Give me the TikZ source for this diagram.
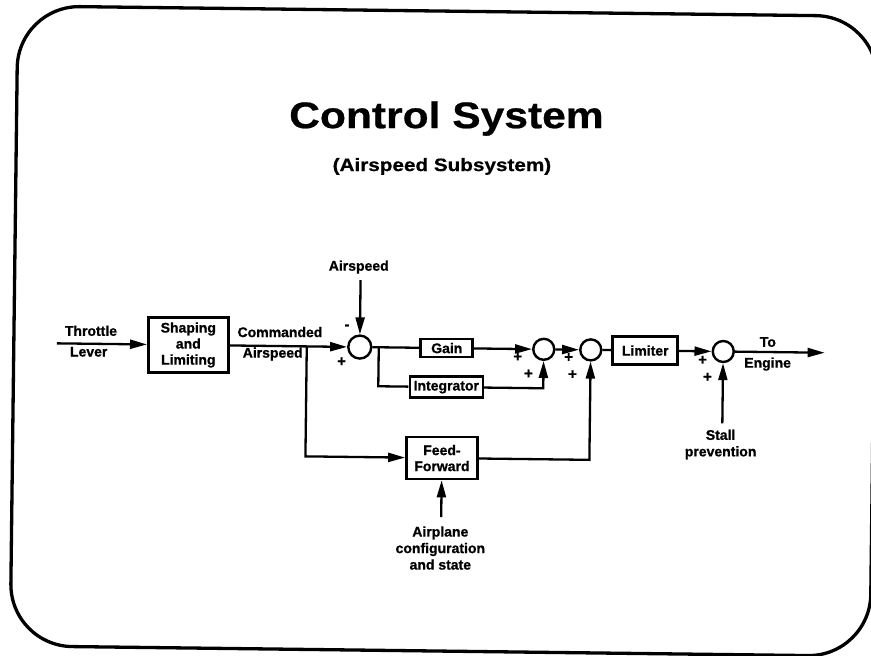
\documentclass[tikz,border=0pt]{standalone}
\usepackage{fontspec}
\setmainfont{Liberation Sans}
\newfontfamily\titlefont{Liberation Sans Bold}[FakeStretch=1.15,FakeBold=0.6]
\newfontfamily\lblfont{Liberation Sans Bold}[FakeBold=0.9]
\usetikzlibrary{arrows.meta}
\begin{document}
\begin{tikzpicture}[x=1pt,y=-1pt,
  lbl/.style={font=\lblfont\fontsize{14}{16.5}\selectfont, align=center, inner sep=0pt},
  blk/.style={draw, line width=2.6pt, inner sep=0pt, align=center, font=\lblfont\fontsize{14}{16}\selectfont},
  sumc/.style={draw, circle, line width=2.4pt, minimum size=21pt, inner sep=0pt},
  conn/.style={line width=2.3pt},
  arr/.style={conn, -{Triangle[length=17pt,width=9pt]}},
  sgn/.style={font=\lblfont\fontsize{15}{15}\selectfont, inner sep=0pt}]
\useasboundingbox (0,0) rectangle (871,656);
\begin{scope}[rotate around={-0.7:(436,330)}]
% frame
\draw[line width=3.3pt, rounded corners=62pt] (14,11) rectangle (874,651);
% titles
\node[font=\titlefont\fontsize{37}{40}\selectfont, anchor=base, inner sep=0pt] (title) at (444,128) {Control System};
\node[font=\titlefont\fontsize{18}{20}\selectfont, anchor=base, inner sep=0pt] (sub) at (440,171) {(Airspeed Subsystem)};
% input
\node[lbl] (thr) at (91,335) {Throttle};
\node[lbl] (lev) at (89,356) {Lever};
\coordinate (tin) at (57,348);
\node[blk, minimum width=80pt, minimum height=55pt] (shp) at (188.5,348) {Shaping\\and\\Limiting};
\draw[arr] (tin) -- (shp);
\node[lbl] (cmd) at (280,334) {Commanded};
\node[lbl] (cas) at (273,356) {Airspeed};
\coordinate (br) at (307,348);
% sum 1
\node[sumc, minimum size=23pt] (s1) at (360,348) {};
\draw[arr] (shp) -- (s1);
\node[lbl] (asp) at (358,268) {Airspeed};
\coordinate (aspin) at (360,281);
\draw[arr] (aspin) -- (s1);
\node[sgn] (m1) at (347,328) {-};
\node[sgn] (p1) at (342,363) {+};
% gain / integrator
\coordinate (j1) at (379,348);
\node[blk, minimum width=52pt, minimum height=18pt] (gain) at (447,348) {Gain};
\node[blk, minimum width=73pt, minimum height=21pt] (intg) at (447,387) {Integrator};
\node[sumc] (s2) at (544,348) {};
\draw[conn] (s1) -- (gain);
\draw[conn] (j1) |- (intg);
\draw[arr] (gain) -- (s2);
\draw[arr] (intg) -| (s2);
\node[sgn] (p2a) at (518,356) {+};
\node[sgn] (p2b) at (529,373) {+};
% sum 3
\node[sumc] (s3) at (591,348) {};
\draw[arr] (s2) -- (s3);
\node[sgn] (p3a) at (569,356) {+};
\node[sgn] (p3b) at (573,373) {+};
% limiter
\node[blk, minimum width=65pt, minimum height=28pt] (lim) at (645.5,348) {Limiter};
\draw[conn] (s3) -- (lim);
% sum 4
\node[sumc] (s4) at (723.5,348) {};
\draw[arr] (lim) -- (s4);
\node[sgn] (p4a) at (703,357) {+};
\node[sgn] (p4b) at (708,374) {+};
\coordinate (out) at (825,348);
\draw[arr] (s4) -- (out);
\node[lbl] (to) at (768,338) {To};
\node[lbl] (eng) at (768,360) {Engine};
\coordinate (stin) at (723.5,420);
\draw[arr] (stin) -- (s4);
\node[lbl] (stall) at (722,441) {Stall\\prevention};
% feed-forward
\node[blk, minimum width=71pt, minimum height=42pt] (ff) at (443.5,458) {Feed-\\Forward};
\draw[arr] (br) |- (ff);
\draw[arr] (ff) -| (s3);
\coordinate (ffin) at (443.5,517);
\draw[arr] (ffin) -- (ff);
\node[lbl] (apl) at (443,548) {Airplane\\configuration\\and state};
\end{scope}
\end{tikzpicture}
\end{document}
